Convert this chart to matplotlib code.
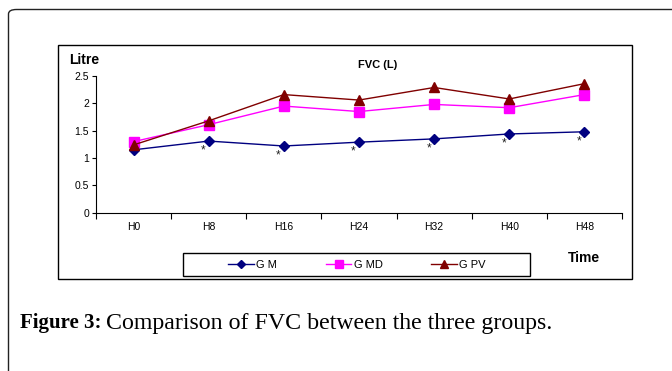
import matplotlib

matplotlib.use("Agg")
import matplotlib.pyplot as plt
import numpy as np
from matplotlib.patches import FancyBboxPatch, Rectangle

hours = ["H0", "H8", "H16", "H24", "H32", "H40", "H48"]
g_m = [1.15, 1.31, 1.22, 1.29, 1.35, 1.44, 1.48]
g_md = [1.30, 1.61, 1.95, 1.85, 1.98, 1.92, 2.16]
g_pv = [1.24, 1.68, 2.16, 2.06, 2.29, 2.08, 2.36]
starred = [1, 2, 3, 4, 5, 6]  # points marked with * under G M
y_ticks = [0, 0.5, 1, 1.5, 2, 2.5]
y_labels = ["0", "0.5", "1", "1.5", "2", "2.5"]

W, H = 672, 371
SANS = "Liberation Sans"

fig = plt.figure(figsize=(W / 100, H / 100), dpi=100)


def fx(px):
    return px / W


def fy(py):
    return 1 - py / H


def box(x0, y0, x1, y1):
    return Rectangle((fx(x0), fy(y1)), fx(x1) - fx(x0), fy(y0) - fy(y1),
                     transform=fig.transFigure, fill=False,
                     edgecolor="black", linewidth=1.0)


# outer rounded frame (runs off the right and bottom)
fig.patches.append(FancyBboxPatch((fx(8.5), fy(400)), fx(700), fy(9.5) - fy(400),
                                  boxstyle="round,pad=0,rounding_size=0.012",
                                  transform=fig.transFigure, fill=False,
                                  edgecolor="#222222", linewidth=1.0))
fig.patches.append(box(58, 45, 632, 279))   # chart box
fig.patches.append(box(183, 253, 530, 276))  # legend box

ax = fig.add_axes([fx(96), fy(212.7), fx(622) - fx(96), fy(76) - fy(212.7)])
x = np.arange(len(hours))
ax.plot(x, g_m, color="#000080", marker="D", markersize=5, linewidth=1.0, label="G M")
ax.plot(x, g_md, color="#FF00FF", marker="s", markersize=7, linewidth=1.0, label="G MD")
ax.plot(x, g_pv, color="#800000", marker="^", markersize=7, linewidth=1.0, label="G PV")

for i in starred:
    ax.annotate("*", (x[i], g_m[i]), xytext=(-4, -7), textcoords="offset points",
                ha="center", va="center", fontsize=8.5, family=SANS, color="#222222")

ax.set_xlim(-0.5, len(hours) - 0.5)
ax.set_ylim(0, 2.5)
ax.set_xticks(np.arange(-0.5, len(hours), 1))
ax.set_xticklabels([])
ax.set_xticks(x, minor=True)
ax.set_xticklabels(hours, minor=True, fontsize=7.5, family=SANS)
ax.tick_params(axis="x", which="major", length=4, width=0.8, direction="out")
ax.tick_params(axis="x", which="minor", length=0, pad=7)
ax.set_yticks(y_ticks)
ax.set_yticklabels(y_labels, fontsize=7.5, family=SANS)
ax.tick_params(axis="y", length=3, width=0.8, direction="out", pad=2)
for side in ("top", "right"):
    ax.spines[side].set_visible(False)
for side in ("left", "bottom"):
    ax.spines[side].set_linewidth(0.8)

fig.text(fx(69), fy(60), "Litre", fontsize=10, fontweight="bold", family=SANS,
         va="center", ha="left")
fig.text(fx(378), fy(65), "FVC (L)", fontsize=8, fontweight="bold", family=SANS,
         va="center", ha="center")
fig.text(fx(568), fy(258), "Time", fontsize=10, fontweight="bold", family=SANS,
         va="center", ha="left")

fig.legend(loc="center", ncol=3, bbox_to_anchor=(fx(357), fy(265)),
           bbox_transform=fig.transFigure, frameon=False, borderpad=0,
           prop={"family": SANS, "size": 8}, handlelength=2.3,
           handletextpad=0.2, columnspacing=4.4, numpoints=1, markerscale=0.8)

fig.text(fx(20), fy(323), "Figure 3:", fontsize=15, fontweight="bold",
         family="Liberation Serif", va="center", ha="left")
fig.text(fx(106), fy(323), "Comparison of FVC between the three groups.", fontsize=17.2,
         family="Liberation Serif", va="center", ha="left")

fig.savefig("out.png", dpi=100)
